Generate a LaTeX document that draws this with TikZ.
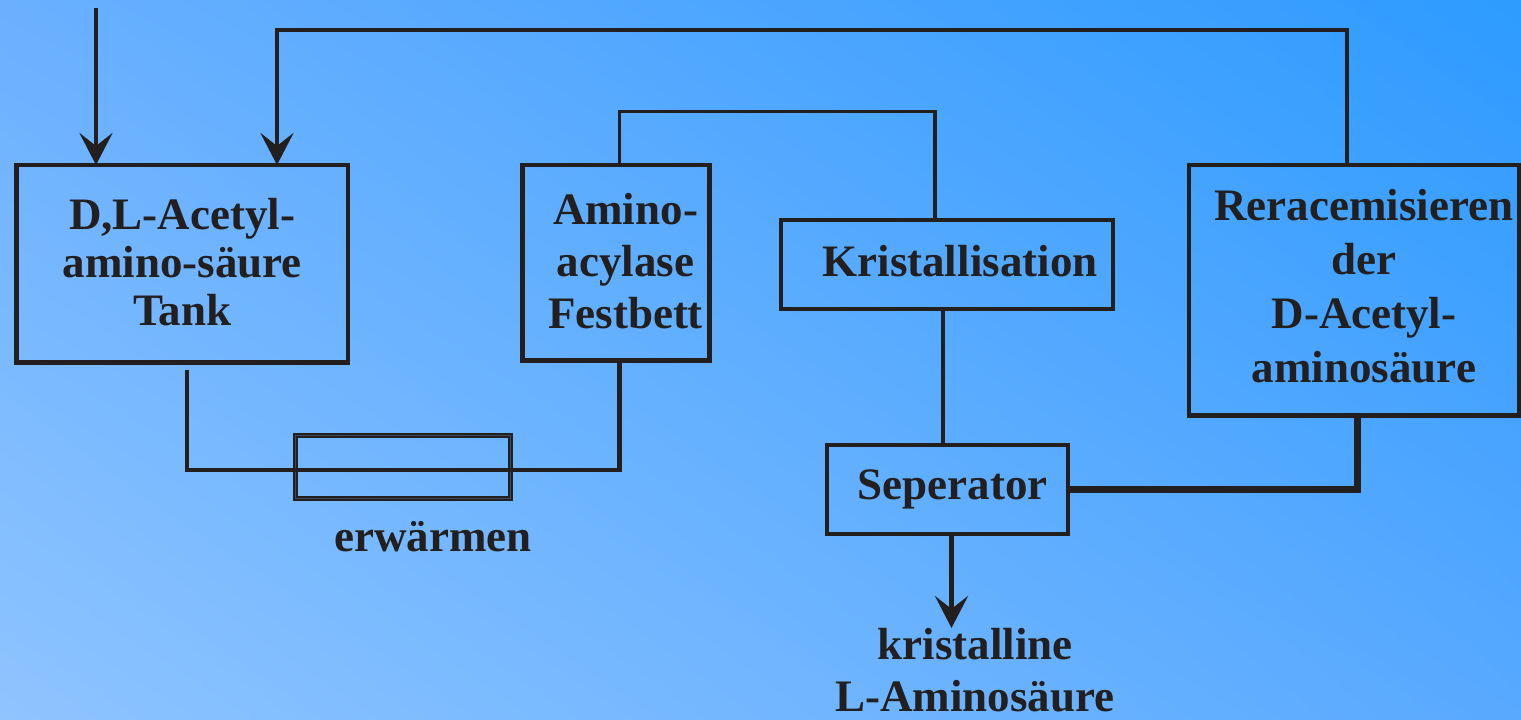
\documentclass[tikz,border=0pt]{standalone}
\usepackage{fontspec}
\setmainfont{Liberation Serif}
\usetikzlibrary{arrows.meta, shadings}

\begin{document}
\begin{tikzpicture}[x=1pt, y=-1pt,
    box/.style={draw=borderColour, line width=4.5pt, inner sep=0pt, outer sep=0pt},
    boxText/.style={text=borderColour, align=center, inner sep=0pt,
        font=\bfseries\fontsize{45}{#1}\selectfont},
    heaterBox/.style={draw=borderColour, line width=2pt, double=heaterGap,
        double distance=0.8pt, inner sep=0pt, outer sep=0pt},
    pipe/.style={draw=borderColour, line width=4.5pt},
    thinPipe/.style={draw=borderColour, line width=3.3pt},
    thickPipe/.style={draw=borderColour, line width=7pt},
    flowArrow/.style={draw=borderColour, line width=4.5pt,
        -{Stealth[length=32pt, width=33pt, inset=13pt]}}]
    \definecolor{borderColour}{HTML}{231F1E}
    \definecolor{heaterGap}{HTML}{3E4A5C}
    \definecolor{bgTopLeft}{HTML}{6AB0FF}
    \definecolor{bgTopRight}{HTML}{2D9BFF}
    \definecolor{bgBottomLeft}{HTML}{8EC4FF}
    \definecolor{bgBottomRight}{HTML}{58A9FF}

    % Background
    \useasboundingbox (0,0) rectangle (1521,720);
    \shade[upper left=bgTopLeft, upper right=bgTopRight,
           lower left=bgBottomLeft, lower right=bgBottomRight] (0,0) rectangle (1521,720);

    % Process units
    \node[box, minimum width=331.5pt, minimum height=197.5pt,
        label={[boxText=48, yshift=2pt]center:{D,L-Acetyl-\\amino-säure\\Tank}}]
        (tank) at (182.25,263.75) {};
    \node[box, minimum width=187pt, minimum height=195.5pt,
        label={[boxText=52, xshift=9.5pt, yshift=2pt]center:{Amino-\\acylase\\Festbett}}]
        (fest) at (616,262.75) {};
    \node[box, minimum width=332pt, minimum height=89pt,
        label={[boxText=50, xshift=13pt, yshift=3pt]center:Kristallisation}]
        (krist) at (947,264.5) {};
    \node[box, minimum width=241pt, minimum height=89pt,
        label={[boxText=50, xshift=5pt]center:Seperator}]
        (sep) at (947.5,489.5) {};
    \node[box, minimum width=330pt, minimum height=250.5pt,
        label={[boxText=54, xshift=10pt, yshift=4pt]center:{Reracemisieren\\der\\D-Acetyl-\\aminosäure}}]
        (rerac) at (1354,290.25) {};
    \node[heaterBox, minimum width=214.5pt, minimum height=63pt] (heat) at (403,467) {};

    % Labels
    \node[boxText=50] (heatLabel) at (433,537) {erwärmen};
    \node[boxText=52] (prod) at (975,670) {kristalline\\L-Aminosäure};

    % Free ends
    \coordinate (feed) at (96,8);
    \coordinate (recycleCorner) at (277,30);
    \coordinate (outlet) at (951.5,628);

    % Connections
    \draw[flowArrow] (feed) -- (feed |- tank.north);
    \draw[flowArrow] ([xshift=-7pt]rerac.north) |- (recycleCorner) -- (recycleCorner |- tank.north);
    \draw[pipe] ([xshift=4.5pt, yshift=-7pt]tank.south) |- ([yshift=-3pt]heat.center)
        -| ([xshift=3.5pt]fest.south);
    \draw[thinPipe] ([xshift=3.5pt]fest.north) -- ++(0,-53.5) -| ([xshift=-12pt]krist.north);
    \draw[pipe] ([xshift=-4pt]krist.south) -- ([xshift=-4.5pt]sep.north);
    \draw[thickPipe] (sep.east) -| ([xshift=3pt]rerac.south);
    \draw[flowArrow] ([xshift=4pt]sep.south) -- (outlet);

\end{tikzpicture}
\end{document}
